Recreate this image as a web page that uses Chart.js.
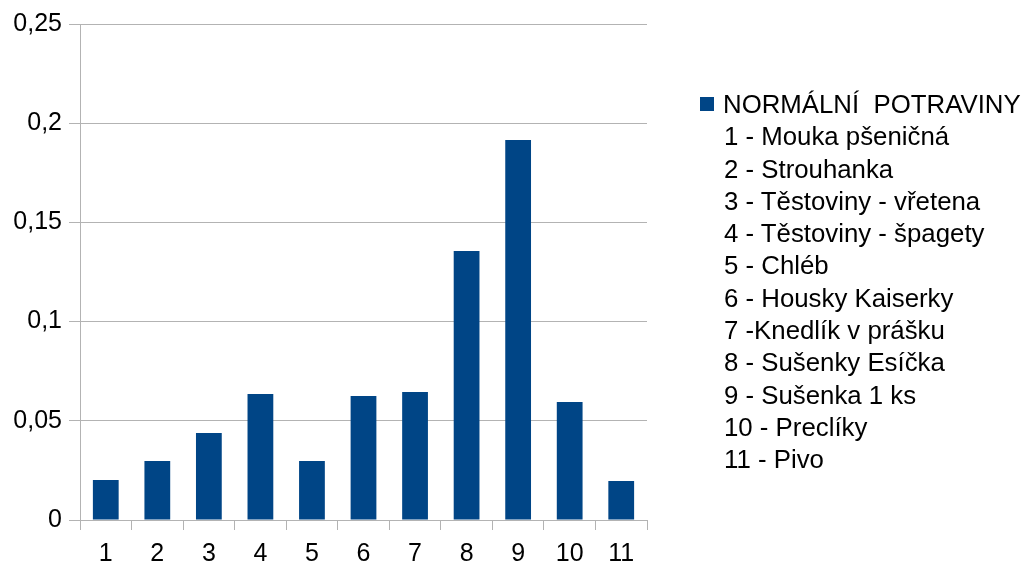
<!DOCTYPE html>
<html lang="cs">
<head>
<meta charset="UTF-8">
<title>Normální potraviny</title>
<script src="https://cdn.jsdelivr.net/npm/chart.js@4/dist/chart.umd.min.js"></script>
<style>
  body { margin: 0; background: #fff; font-family: "Liberation Sans", Arial, sans-serif; }
  #wrap { position: relative; width: 1024px; height: 568px; }
  #legend { position: absolute; left: 700px; top: 88px; font-size: 25.8px; color: #000; line-height: 32.3px; white-space: pre; }
  #legend .key { display: inline-block; width: 14px; height: 14px; background: #004586; margin-right: 9px; vertical-align: 2px; }
  #legend .ln { padding-left: 24px; }
</style>
</head>
<body>
<div id="wrap">
  <canvas id="chart" width="1024" height="568"></canvas>
  <div id="legend"></div>
</div>
<script>
// data
var categories = ["1", "2", "3", "4", "5", "6", "7", "8", "9", "10", "11"];
var values = [0.0202, 0.0297, 0.0438, 0.0635, 0.0297, 0.0625, 0.0645, 0.1356, 0.1915, 0.0595, 0.0197];
var seriesName = "NORMÁLNÍ  POTRAVINY";
var itemNames = [
  "1 - Mouka pšeničná",
  "2 - Strouhanka",
  "3 - Těstoviny - vřetena",
  "4 - Těstoviny - špagety",
  "5 - Chléb",
  "6 - Housky Kaiserky",
  "7 -Knedlík v prášku",
  "8 - Sušenky Esíčka",
  "9 - Sušenka 1 ks",
  "10 - Preclíky",
  "11 - Pivo"
];

var gridCol = "#b3b3b3";

// legend block on the right
var lg = document.getElementById("legend");
var html = '<div><span class="key"></span>' + seriesName + '</div>';
itemNames.forEach(function (t) { html += '<div class="ln">' + t + '</div>'; });
lg.innerHTML = html;

new Chart(document.getElementById("chart"), {
  type: "bar",
  data: {
    labels: categories,
    datasets: [{
      label: seriesName,
      data: values,
      backgroundColor: "#004586",
      barPercentage: 0.5,
      categoryPercentage: 1.0
    }]
  },
  options: {
    responsive: false,
    animation: false,
    layout: { padding: { top: 24, right: 377, left: 0, bottom: 0 } },
    plugins: { legend: { display: false }, tooltip: { enabled: false } },
    scales: {
      x: {
        grid: {
          offset: true,
          color: function (ctx) { return ctx.index === categories.length ? gridCol : "transparent"; },
          tickColor: gridCol,
          tickLength: 10
        },
        border: { color: gridCol },
        ticks: { color: "#000", font: { family: "Liberation Sans", size: 25 }, padding: 9 },
        afterFit: function (s) { s.height = 48; }
      },
      y: {
        min: 0,
        max: 0.25,
        ticks: {
          stepSize: 0.05,
          color: "#000",
          font: { family: "Liberation Sans", size: 25 },
          padding: 7,
          callback: function (v) { return String(Math.round(v * 100) / 100).replace(".", ","); }
        },
        grid: { color: gridCol, tickLength: 11 },
        border: { color: gridCol },
        afterFit: function (s) { s.width = 80; }
      }
    }
  }
});
</script>
</body>
</html>
